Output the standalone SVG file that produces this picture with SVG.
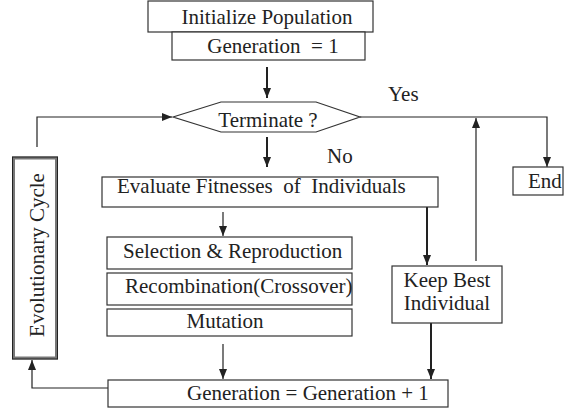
<svg xmlns="http://www.w3.org/2000/svg" width="564" height="408" viewBox="0 0 564 408">
<defs>
<style>
.box{fill:#fff;stroke:#333;stroke-width:1.2}
.t{font-family:"Liberation Serif","Times New Roman",serif;font-size:21px;fill:#222}
.c{text-anchor:middle}
.ln{fill:none;stroke:#222;stroke-width:1.2}
.thk{stroke-width:2}
</style>
<marker id="ah" markerUnits="userSpaceOnUse" markerWidth="10" markerHeight="8" refX="10" refY="4" orient="auto">
<path d="M0,0 L10,4 L0,8 z" fill="#222"/>
</marker>
</defs>
<rect width="564" height="408" fill="#fff"/>
<g id="connectors">
<line class="ln thk" x1="267" y1="67" x2="267" y2="98" marker-end="url(#ah)"/>
<line class="ln thk" x1="267" y1="137" x2="267" y2="167" marker-end="url(#ah)"/>
<polyline class="ln" points="37,147 37,117 172,117" marker-end="url(#ah)"/>
<polyline class="ln" points="360,117 547,117 547,167" marker-end="url(#ah)"/>
<line class="ln" x1="476" y1="261" x2="476" y2="118" marker-end="url(#ah)"/>
<line class="ln" x1="223" y1="212" x2="223" y2="236" marker-end="url(#ah)"/>
<line class="ln thk" x1="427" y1="207" x2="427" y2="265" marker-end="url(#ah)"/>
<line class="ln thk" x1="431" y1="323" x2="431" y2="379" marker-end="url(#ah)"/>
<line class="ln" x1="223" y1="344" x2="223" y2="379" marker-end="url(#ah)"/>
<polyline class="ln" points="108,388 32,388 32,360" marker-end="url(#ah)"/>
</g>
<g id="init">
<rect class="box" x="148" y="1" width="225" height="31"/>
<text class="t c" x="267" y="24">Initialize Population</text>
</g>
<g id="gen1">
<rect class="box" x="172" y="32" width="193" height="28"/>
<text class="t c" x="273" y="53" xml:space="preserve">Generation  = 1</text>
</g>
<g id="terminate">
<polygon class="box" points="173,117 221,102 316,102 360,117 316,132 221,132"/>
<text class="t c" x="268" y="127">Terminate ?</text>
</g>
<g id="labels">
<text class="t" x="388" y="101">Yes</text>
<text class="t" x="327" y="163">No</text>
</g>
<g id="end">
<rect class="box" x="513" y="167" width="50" height="28"/>
<text class="t" x="528" y="188">End</text>
</g>
<g id="evaluate">
<rect class="box" x="102" y="177" width="336" height="30"/>
<text class="t" x="117" y="193" xml:space="preserve">Evaluate Fitnesses  of  Individuals</text>
</g>
<g id="selection">
<rect class="box" x="107" y="237" width="245" height="32"/>
<text class="t" x="123" y="258">Selection &amp; Reproduction</text>
</g>
<g id="recombination">
<rect class="box" x="107" y="273" width="245" height="32"/>
<text class="t" x="125" y="293">Recombination(Crossover)</text>
</g>
<g id="mutation">
<rect class="box" x="107" y="309" width="245" height="27"/>
<text class="t c" x="225" y="328">Mutation</text>
</g>
<g id="keepbest">
<rect class="box" x="392" y="266" width="110" height="57"/>
<text class="t c" x="447" y="287">Keep Best</text>
<text class="t c" x="447" y="310">Individual</text>
</g>
<g id="generation">
<rect class="box" x="108" y="380" width="340" height="27"/>
<text class="t" x="187" y="400">Generation = Generation + 1</text>
</g>
<g id="cycle">
<rect x="13.5" y="158" width="43" height="200" fill="#fff" stroke="#777" stroke-width="3"/>
<rect x="12.5" y="157" width="45" height="202" fill="none" stroke="#222" stroke-width="1"/>
<text class="t c" transform="translate(44,255) rotate(-90)">Evolutionary Cycle</text>
</g>
</svg>
